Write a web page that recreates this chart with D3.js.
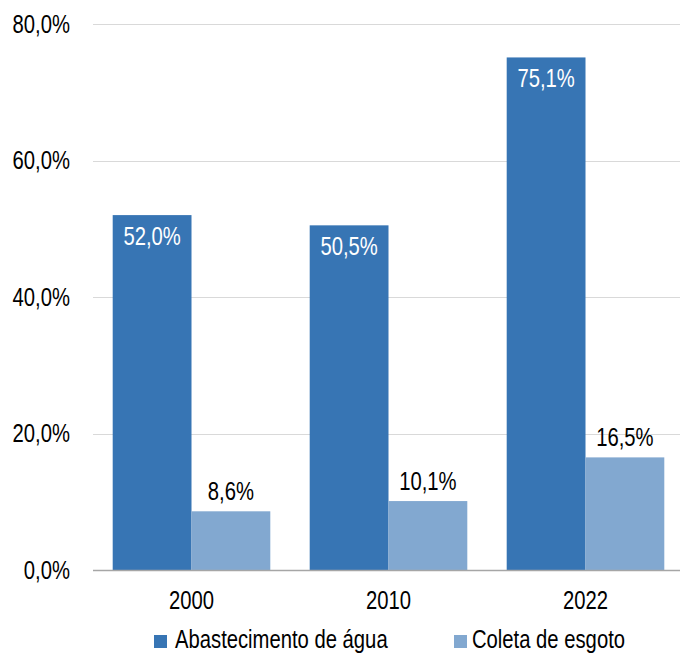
<!DOCTYPE html>
<html><head><meta charset="utf-8">
<script src="https://cdn.jsdelivr.net/npm/d3@7"></script>
<style>body{margin:0;background:#fff;} text{font-family:"Liberation Sans",Arial,sans-serif;}</style>
</head><body>
<svg id="c" width="680" height="653"></svg>
<script>
const years = ["2000","2010","2022"];
const seriesNames = ["Abastecimento de água","Coleta de esgoto"];
const agua = [52.0, 50.5, 75.1];
const esgoto = [8.6, 10.1, 16.5];
const yTicks = [0,20,40,60,80];
const colors = ["#3775b4","#82a8d0"];

const svg = d3.select("#c");
const fs = 25, sx = 0.81;
const y = d3.scaleLinear().domain([0,80]).range([570,24]);
const x0 = d3.scaleBand().domain(years).range([93,684]).paddingInner(0.2).paddingOuter(0.1);
const x1 = d3.scaleBand().domain([0,1]).range([0,x0.bandwidth()]);
const fmt = v => d3.format(".1f")(v).replace(".",",") + "%";
const tr = (x,yy) => `translate(${x},${yy}) scale(${sx},1)`;

// gridlines
svg.append("g").selectAll("line").data(yTicks.filter(d=>d>0)).join("line")
  .attr("x1",93).attr("x2",680).attr("y1",d=>Math.round(y(d))+0.5).attr("y2",d=>Math.round(y(d))+0.5)
  .attr("stroke","#d9d9d9").attr("stroke-width",1);

// y labels
svg.append("g").selectAll("text").data(yTicks).join("text")
  .attr("transform",d=>tr(70,y(d))).attr("dy","0.35em").attr("text-anchor","end")
  .attr("font-size",fs).attr("fill","#000").text(fmt);

const data = [agua, esgoto];
data.forEach((vals,si)=>{
  const g = svg.append("g");
  g.selectAll("rect").data(vals).join("rect")
    .attr("x",(d,i)=>x0(years[i])+x1(si)).attr("width",x1.bandwidth())
    .attr("y",d=>y(d)).attr("height",d=>y(0)-y(d)).attr("fill",colors[si]);
  g.selectAll("text").data(vals).join("text")
    .attr("transform",(d,i)=>tr(x0(years[i])+x1(si)+x1.bandwidth()/2, si===0 ? y(d)+21 : y(d)-20))
    .attr("dy","0.35em").attr("text-anchor","middle").attr("font-size",fs)
    .attr("fill", si===0 ? "#fff" : "#000").text(fmt);
});

// axis line
svg.append("line").attr("x1",93).attr("x2",680).attr("y1",570.5).attr("y2",570.5)
  .attr("stroke","#a6a6a6").attr("stroke-width",1.5);

// x labels
svg.append("g").selectAll("text").data(years).join("text")
  .attr("transform",d=>tr(x0(d)+x0.bandwidth()/2,600)).attr("dy","0.35em")
  .attr("text-anchor","middle").attr("font-size",fs).attr("fill","#000").text(d=>d);

// legend
const legX = [154, 454];
const legT = [175, 472];
const lg = svg.append("g");
seriesNames.forEach((n,i)=>{
  lg.append("rect").attr("x",legX[i]).attr("y",635).attr("width",13).attr("height",13).attr("fill",colors[i]);
  lg.append("text").attr("transform",tr(legT[i],639.5)).attr("dy","0.35em")
    .attr("font-size",fs).attr("fill","#000").text(n);
});
</script>
</body></html>
